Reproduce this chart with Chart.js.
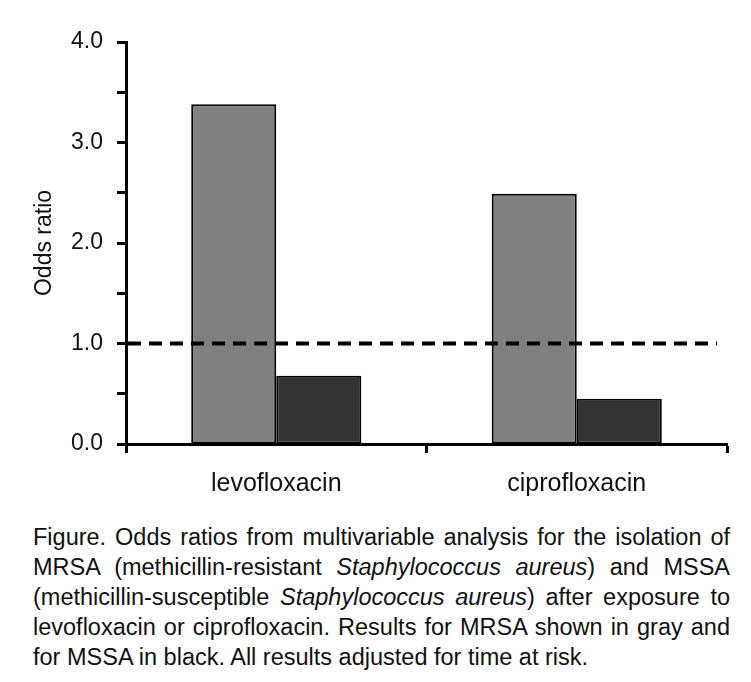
<!DOCTYPE html>
<html>
<head>
<meta charset="utf-8">
<script src="https://cdn.jsdelivr.net/npm/chart.js@4"></script>
<style>
  body { margin: 0; background: #fff; }
  #wrap { position: relative; width: 751px; height: 682px; }
  #chartBox { position: absolute; left: 0; top: 0; width: 751px; height: 505px; }
  #caption {
    position: absolute; left: 33px; top: 522px; width: 697px;
    font-family: "Liberation Sans", Arial, sans-serif; font-size: 23.5px;
    line-height: 30px; color: #111;
  }
  #caption div { white-space: nowrap; text-align: justify; text-align-last: justify; }
  #caption div.last { text-align-last: left; }
</style>
</head>
<body>
<div id="wrap">
  <div id="chartBox"><canvas id="oddsChart"></canvas></div>
  <div id="caption">
    <div>Figure. Odds ratios from multivariable analysis for the isolation of</div>
    <div>MRSA (methicillin-resistant <i>Staphylococcus aureus</i>) and MSSA</div>
    <div>(methicillin-susceptible <i>Staphylococcus aureus</i>) after exposure to</div>
    <div>levofloxacin or ciprofloxacin. Results for MRSA shown in gray and</div>
    <div class="last">for MSSA in black. All results adjusted for time at risk.</div>
  </div>
</div>
<script>
var drugs = ["levofloxacin", "ciprofloxacin"];
var mrsaOdds = [3.38, 2.49];
var mssaOdds = [0.68, 0.45];
var referenceLine = 1.0;

// dashed line at OR = 1, drawn over the bars
var refLinePlugin = {
    id: "refLine",
    afterDatasetsDraw: function (chart) {
        var ctx = chart.ctx;
        var xs = chart.scales.x;
        var y = chart.scales.y.getPixelForValue(referenceLine);
        ctx.save();
        ctx.strokeStyle = "#000";
        ctx.lineWidth = 4;
        ctx.setLineDash([13, 8]);
        ctx.beginPath();
        ctx.moveTo(xs.left + 2, y);
        ctx.lineTo(xs.right - 10, y);
        ctx.stroke();
        ctx.restore();
    },
};

document.addEventListener("DOMContentLoaded", function () {
    var ctx = document.getElementById("oddsChart").getContext("2d");
    var oddsChart = new Chart(ctx, {
        type: "bar",
        data: {
            labels: drugs,
            datasets: [
                {
                    label: "MRSA",
                    data: mrsaOdds,
                    backgroundColor: "#808080",
                    borderColor: "#000",
                    borderWidth: 2,
                    borderSkipped: false,
                },
                {
                    label: "MSSA",
                    data: mssaOdds,
                    backgroundColor: "#333333",
                    borderColor: "#000",
                    borderWidth: 2,
                    borderSkipped: false,
                },
            ],
        },
        options: {
            responsive: true,
            maintainAspectRatio: false,
            animation: false,
            layout: { padding: { top: 42, right: 24, left: 0, bottom: 0 } },
            datasets: {
                bar: { categoryPercentage: 0.566, barPercentage: 1.0 },
            },
            scales: {
                x: {
                    grid: {
                        offset: true,
                        drawOnChartArea: false,
                        tickLength: 9,
                        tickWidth: 3,
                        tickColor: "#000",
                    },
                    border: { color: "#000", width: 3 },
                    ticks: {
                        color: "#111",
                        padding: 16,
                        font: { family: "Liberation Sans", size: 25 },
                    },
                    afterFit: function (scale) { scale.height = 61; },
                },
                y: {
                    min: 0,
                    max: 4,
                    grid: {
                        drawOnChartArea: false,
                        tickLength: 9,
                        tickWidth: 3,
                        tickColor: "#000",
                    },
                    border: { color: "#000", width: 3 },
                    ticks: {
                        stepSize: 0.5,
                        color: "#111",
                        padding: 14,
                        font: { family: "Liberation Sans", size: 23 },
                        callback: function (value) {
                            return value % 1 === 0 ? value.toFixed(1) : "";
                        },
                    },
                    title: {
                        display: true,
                        text: "Odds ratio",
                        color: "#111",
                        padding: { top: 31, bottom: 0 },
                        font: { family: "Liberation Sans", size: 23 },
                    },
                    afterFit: function (scale) { scale.width = 126; },
                },
            },
            plugins: {
                legend: { display: false },
                tooltip: { enabled: false },
            },
        },
        plugins: [refLinePlugin],
    });
});
</script>
</body>
</html>
